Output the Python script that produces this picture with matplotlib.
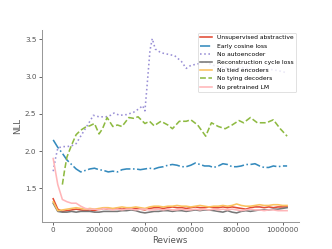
import matplotlib
matplotlib.use("Agg")
import matplotlib.pyplot as plt
import numpy as np

x_common = [i * 20000 for i in range(52)]

unsup = [1.36, 1.22, 1.19, 1.20, 1.21, 1.22, 1.21, 1.20, 1.21, 1.20, 1.22, 1.23, 1.22, 1.22, 1.23, 1.22,
         1.23, 1.22, 1.23, 1.22, 1.21, 1.23, 1.24, 1.24, 1.23, 1.24, 1.25, 1.24, 1.24, 1.23, 1.24, 1.25,
         1.24, 1.24, 1.25, 1.24, 1.24, 1.25, 1.24, 1.25, 1.24, 1.23, 1.22, 1.24, 1.25, 1.25, 1.24, 1.25,
         1.24, 1.25, 1.25, 1.25]

early_cos = [2.15, 2.05, 1.97, 1.88, 1.82, 1.76, 1.72, 1.74, 1.76, 1.77, 1.75, 1.74, 1.72, 1.73, 1.72, 1.75,
             1.76, 1.76, 1.76, 1.75, 1.76, 1.77, 1.76, 1.78, 1.79, 1.81, 1.82, 1.81, 1.79, 1.79, 1.81, 1.84,
             1.82, 1.80, 1.80, 1.78, 1.80, 1.83, 1.82, 1.79, 1.79, 1.80, 1.82, 1.82, 1.83, 1.80, 1.78, 1.78,
             1.80, 1.79, 1.80, 1.80]

recon = [1.30, 1.19, 1.18, 1.18, 1.19, 1.18, 1.19, 1.19, 1.19, 1.18, 1.18, 1.19, 1.19, 1.19, 1.19, 1.20,
         1.20, 1.21, 1.20, 1.18, 1.17, 1.18, 1.19, 1.19, 1.20, 1.20, 1.19, 1.20, 1.20, 1.19, 1.20, 1.21,
         1.20, 1.21, 1.21, 1.20, 1.19, 1.18, 1.20, 1.18, 1.17, 1.19, 1.20, 1.19, 1.20, 1.21, 1.21, 1.21,
         1.22, 1.22, 1.23, 1.24]

no_tied = [1.32, 1.20, 1.21, 1.22, 1.23, 1.24, 1.23, 1.22, 1.23, 1.22, 1.23, 1.24, 1.24, 1.23, 1.24, 1.25,
           1.24, 1.24, 1.25, 1.24, 1.23, 1.25, 1.26, 1.26, 1.25, 1.26, 1.26, 1.27, 1.26, 1.26, 1.25, 1.26,
           1.27, 1.26, 1.25, 1.26, 1.26, 1.27, 1.26, 1.27, 1.29, 1.27, 1.26, 1.26, 1.27, 1.28, 1.27, 1.27,
           1.28, 1.28, 1.27, 1.27]

no_lm = [1.90, 1.55, 1.35, 1.32, 1.30, 1.30, 1.26, 1.23, 1.22, 1.22, 1.21, 1.23, 1.22, 1.21, 1.22, 1.21,
         1.22, 1.22, 1.21, 1.22, 1.22, 1.21, 1.21, 1.22, 1.21, 1.22, 1.21, 1.21, 1.22, 1.21, 1.21, 1.22,
         1.21, 1.22, 1.21, 1.22, 1.21, 1.22, 1.21, 1.22, 1.21, 1.20, 1.21, 1.22, 1.21, 1.21, 1.20, 1.21,
         1.21, 1.20, 1.20, 1.20]

x_noae = [0, 10000, 20000, 40000, 60000, 80000, 100000, 120000, 140000, 160000, 175000, 200000, 230000,
          250000, 265000, 290000, 320000, 350000, 375000, 390000, 400000, 410000, 422000, 432000, 445000,
          470000, 500000, 530000, 560000, 580000, 600000, 630000, 660000, 700000, 740000, 780000, 820000,
          860000, 900000, 940000, 980000, 1020000]
no_ae = [1.73, 1.90, 2.04, 2.06, 2.06, 2.07, 2.10, 2.20, 2.30, 2.40, 2.48, 2.46, 2.46,
         2.48, 2.51, 2.48, 2.49, 2.52, 2.57, 2.61, 2.54, 2.90, 3.35, 3.51, 3.37,
         3.32, 3.30, 3.28, 3.20, 3.11, 3.15, 3.17, 3.20, 3.15, 3.12, 3.10, 3.12,
         3.10, 3.08, 3.10, 3.08, 3.05]

x_notying = [40000, 50000, 60000, 80000, 100000, 120000, 140000, 160000, 180000, 200000, 215000, 235000,
             260000, 280000, 300000, 330000, 350000, 370000, 390000, 400000, 420000, 440000, 470000, 500000,
             520000, 550000, 580000, 600000, 630000, 665000, 690000, 720000, 750000, 780000, 810000, 830000,
             860000, 890000, 930000, 960000, 990000, 1020000]
no_tying = [1.55, 1.75, 1.92, 2.08, 2.22, 2.28, 2.32, 2.34, 2.37, 2.23, 2.30, 2.45,
            2.33, 2.35, 2.33, 2.45, 2.44, 2.46, 2.40, 2.37, 2.40, 2.34, 2.40, 2.35,
            2.30, 2.40, 2.40, 2.42, 2.35, 2.20, 2.38, 2.33, 2.30, 2.35, 2.41, 2.38,
            2.45, 2.38, 2.38, 2.42, 2.30, 2.20]

grey_txt = '#555555'
fig, ax = plt.subplots(figsize=(6.4, 4.8), dpi=51.875)
lw = 2.2
ax.plot(x_common, unsup, color='#E24A33', lw=lw, ls='-', label='Unsupervised abstractive')
ax.plot(x_common, early_cos, color='#348ABD', lw=lw, ls='-.', label='Early cosine loss')
ax.plot(x_noae, no_ae, color='#988ED5', lw=lw, ls=':', label='No autoencoder')
ax.plot(x_common, recon, color='#777777', lw=lw, ls='-', label='Reconstruction cycle loss')
ax.plot(x_common, no_tied, color='#FBC15E', lw=lw, ls='-', label='No tied encoders')
ax.plot(x_notying, no_tying, color='#8EBA42', lw=lw, ls='--', label='No tying decoders')
ax.plot(x_common, no_lm, color='#FFB5B8', lw=lw, ls='-', label='No pretrained LM')

ax.set_xlabel('Reviews', fontsize=12, color=grey_txt)
ax.set_ylabel('NLL', fontsize=12, color=grey_txt)
ax.set_yticks([1.5, 2.0, 2.5, 3.0, 3.5])
ax.ticklabel_format(axis='x', style='plain')
ax.tick_params(colors=grey_txt, labelsize=10, width=1.2)
for s in ['top', 'right']:
    ax.spines[s].set_visible(False)
for s in ['left', 'bottom']:
    ax.spines[s].set_color('#999999')
    ax.spines[s].set_linewidth(1.4)
ax.legend(loc='upper right', fontsize='small')
fig.savefig('out.png', dpi=51.875)
